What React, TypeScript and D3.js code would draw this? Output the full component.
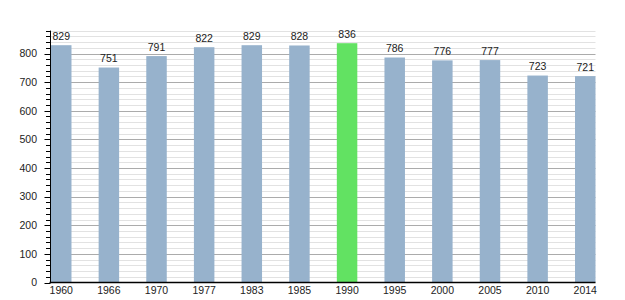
import React from "react";
import * as d3 from "d3";

const years = ["1960", "1966", "1970", "1977", "1983", "1985", "1990", "1995", "2000", "2005", "2010", "2014"];
const population = [829, 751, 791, 822, 829, 828, 836, 786, 776, 777, 723, 721];
const highlightYear = "1990";
const majorTicks = [0, 100, 200, 300, 400, 500, 600, 700, 800];

const W = 625;
const H = 300;
const left = 50.5;
const right = 595.5;
const bottom = 282.5;
const top = 30.6;

export default function App() {
  const x = d3.scaleBand<string>().domain(years).range([left + 0.5, right]).paddingInner(0.57).paddingOuter(0);
  const y = d3.scaleLinear().domain([0, 880]).range([bottom, top]);
  const minor = d3.range(0, 881, 20);
  const font = "'Liberation Sans', Arial, sans-serif";
  return (
    <svg width={W} height={H} style={{ position: "absolute", left: 0, top: 0, background: "#fff" }} fontFamily={font}>
      <rect x={0} y={0} width={W} height={H} fill="#fff" />
      {minor.filter((v) => v % 100 !== 0).map((v) => (
        <line key={"m" + v} x1={left} x2={right} y1={Math.round(y(v)) + 0.5} y2={Math.round(y(v)) + 0.5} stroke="#e2e2e2" strokeWidth={1} />
      ))}
      {majorTicks.filter((v) => v > 0).map((v) => (
        <line key={"M" + v} x1={left} x2={right} y1={Math.round(y(v)) + 0.5} y2={Math.round(y(v)) + 0.5} stroke="#ababab" strokeWidth={1} />
      ))}
      {years.map((yr, i) => (
        <rect
          key={yr}
          x={x(yr)}
          y={y(population[i])}
          width={x.bandwidth()}
          height={bottom - y(population[i])}
          fill={yr === highlightYear ? "#62e262" : "#97b2cc"}
        />
      ))}
      {years.map((yr, i) => (
        <text
          key={"t" + yr}
          x={(x(yr) as number) + x.bandwidth() / 2}
          y={y(population[i]) - 5.5}
          textAnchor="middle"
          fontSize={10.5}
          fill="#222"
        >
          {population[i]}
        </text>
      ))}
      {minor.map((v) => (
        <line key={"tk" + v} x1={v % 100 === 0 ? 44.5 : 46} x2={left} y1={Math.round(y(v)) + 0.5} y2={Math.round(y(v)) + 0.5} stroke="#000" strokeWidth={1} />
      ))}
      {majorTicks.map((v) => (
        <text key={"yl" + v} x={37} y={y(v) + 3.8} textAnchor="end" fontSize={10.5} fill="#222">
          {v}
        </text>
      ))}
      <line x1={left} x2={left} y1={top} y2={bottom} stroke="#000" strokeWidth={1} />
      <line x1={left - 1} x2={right} y1={bottom} y2={bottom} stroke="#000" strokeWidth={1.5} />
      {years.map((yr) => (
        <text key={"xl" + yr} x={(x(yr) as number) + x.bandwidth() / 2} y={294} textAnchor="middle" fontSize={10.5} fill="#222">
          {yr}
        </text>
      ))}
    </svg>
  );
}
